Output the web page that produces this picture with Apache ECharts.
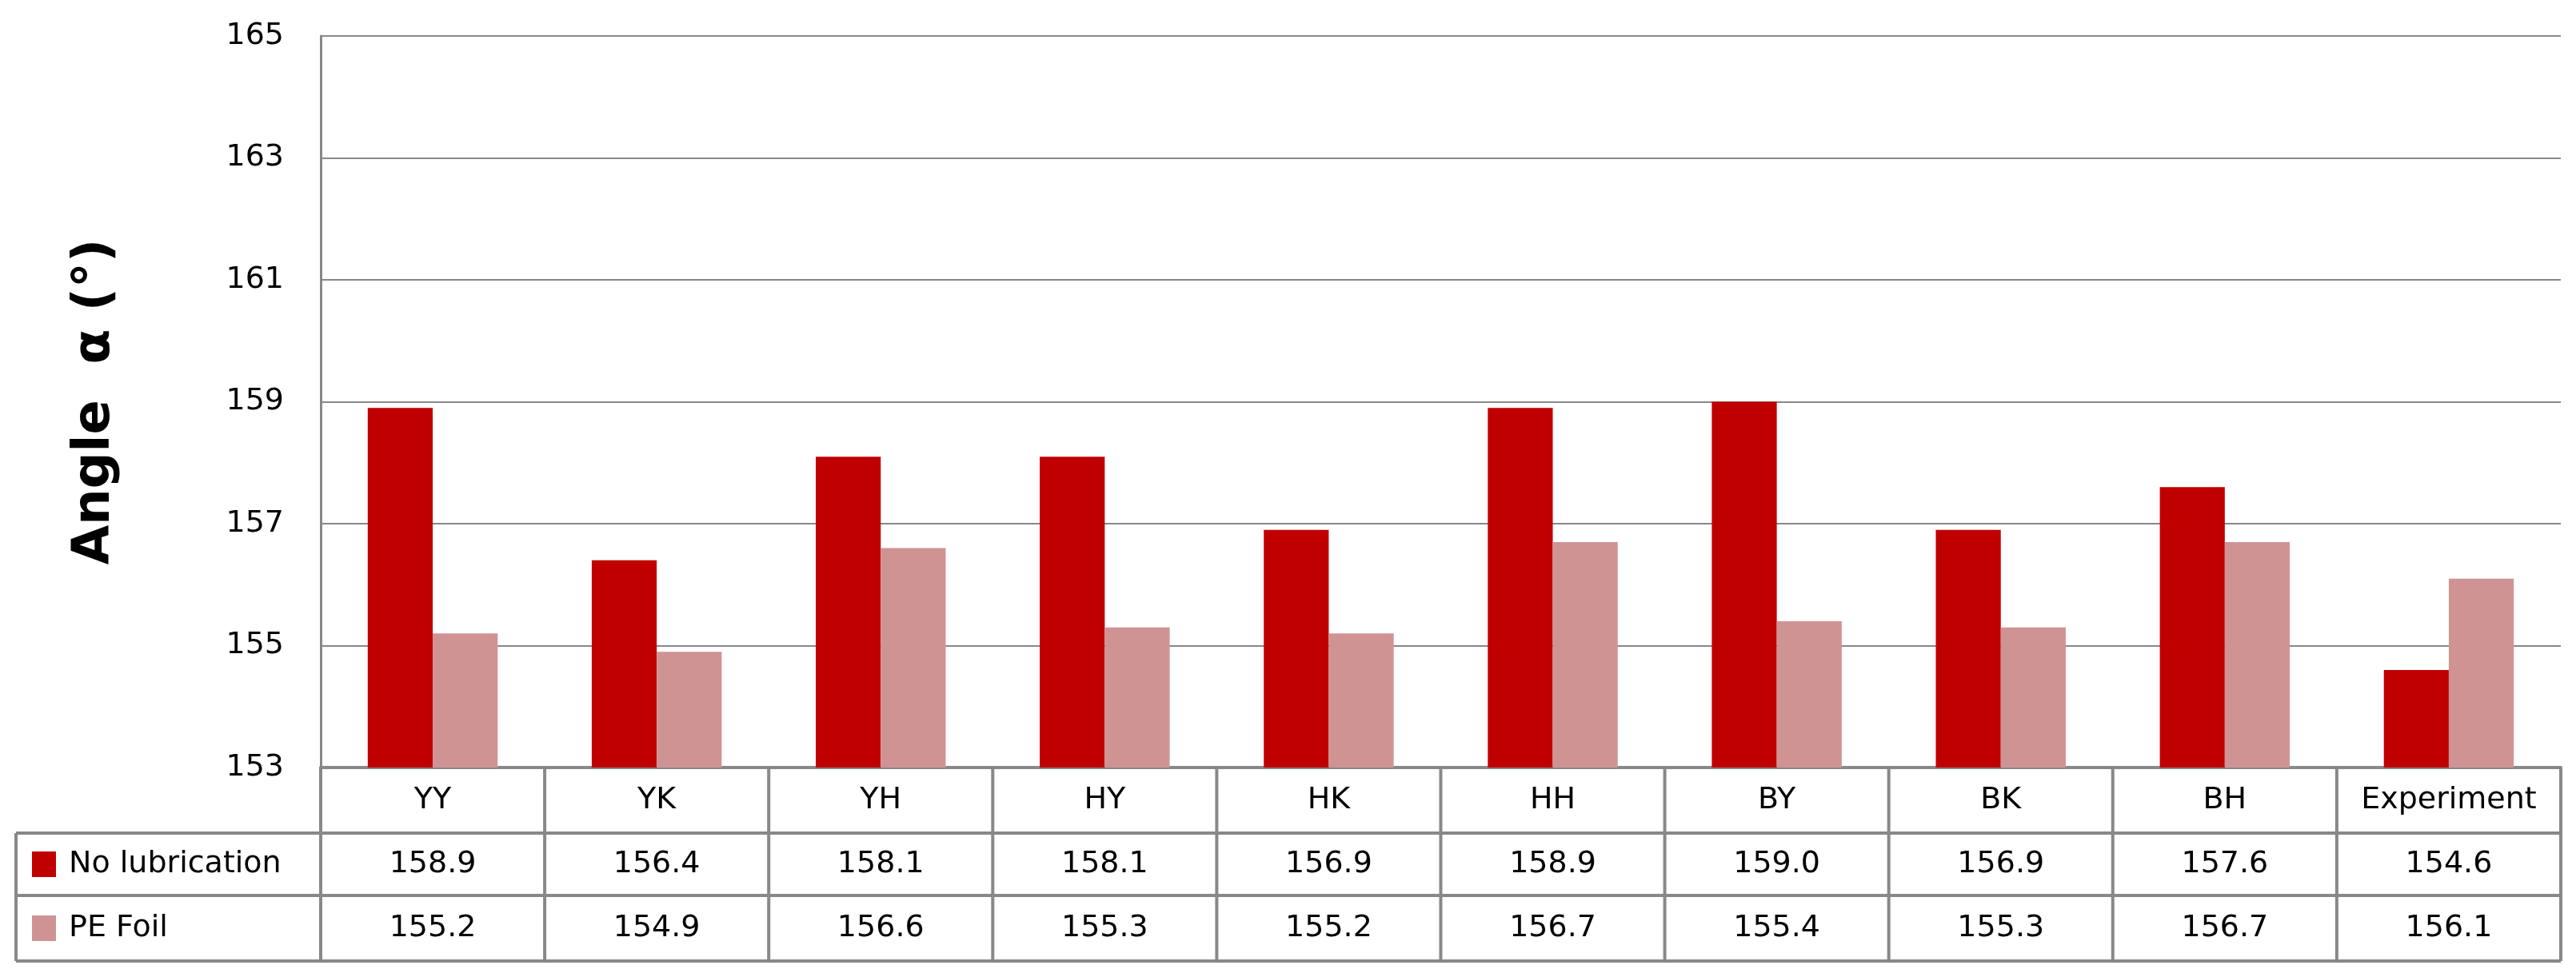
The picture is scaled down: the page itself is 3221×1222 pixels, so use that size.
<!DOCTYPE html>
<html>
<head>
<meta charset="utf-8">
<script src="https://cdn.jsdelivr.net/npm/echarts@6/dist/echarts.min.js"></script>
<style>html,body{margin:0;background:#fff}</style>
</head>
<body>
<div id="main" style="width:3221px;height:1222px;"></div>
<script>
var categories = ['YY', 'YK', 'YH', 'HY', 'HK', 'HH', 'BY', 'BK', 'BH', 'Experiment'];
var noLub = [158.9, 156.4, 158.1, 158.1, 156.9, 158.9, 159.0, 156.9, 157.6, 154.6];
var peFoil = [155.2, 154.9, 156.6, 155.3, 155.2, 156.7, 155.4, 155.3, 156.7, 156.1];
var seriesNames = ['No lubrication', 'PE Foil'];
var colors = ['#C00000', '#D09393'];

var chart = echarts.init(document.getElementById('main'));
var font = 'Verdana, "DejaVu Sans", sans-serif';
chart.setOption({
    animation: false,
    grid: {left: 401, right: 19, top: 45, bottom: 262},
    xAxis: {
        type: 'category', data: categories,
        axisLine: {lineStyle: {color: '#888', width: 4}},
        axisTick: {show: false}, axisLabel: {show: false}
    },
    yAxis: {
        type: 'value', min: 153, max: 165, interval: 2,
        name: 'Angle  α (°)', nameLocation: 'middle', nameGap: 250,
        nameTextStyle: {fontSize: 64, fontWeight: 'bold', color: '#000', fontFamily: font},
        axisLine: {show: true, lineStyle: {color: '#888', width: 3}},
        axisLabel: {fontSize: 38, color: '#000', margin: 46, fontFamily: font},
        splitLine: {lineStyle: {color: '#888', width: 2}}
    },
    series: [
        {name: seriesNames[0], type: 'bar', data: noLub, barWidth: '29%', barGap: '0%', itemStyle: {color: colors[0]}},
        {name: seriesNames[1], type: 'bar', data: peFoil, barWidth: '29%', barGap: '0%', itemStyle: {color: colors[1]}}
    ]
});

// data table under the plot
var x0 = 401, x1 = 3202, tl = 20;
var rowY = [960, 1042, 1120, 1202];
var g = [];
var ls = {stroke: '#888', lineWidth: 4};
function line(a, b, c, d) { g.push({type: 'line', shape: {x1: a, y1: b, x2: c, y2: d}, style: ls}); }
var cw = (x1 - x0) / categories.length;
line(x0, rowY[1], x0, rowY[0]);
line(tl, rowY[1], x1, rowY[1]);
line(tl, rowY[2], x1, rowY[2]);
line(tl, rowY[3], x1, rowY[3]);
line(tl, rowY[1], tl, rowY[3]);
for (var i = 0; i <= categories.length; i++) line(x0 + i * cw, rowY[0], x0 + i * cw, rowY[3]);
var rows = [noLub, peFoil];
categories.forEach(function (c, i) {
    var cx = chart.convertToPixel({xAxisIndex: 0}, c);
    g.push({type: 'text', x: cx, y: (rowY[0] + rowY[1]) / 2, style: {text: c, fontSize: 38, fontFamily: font, fill: '#000', align: 'center', verticalAlign: 'middle'}});
    rows.forEach(function (r, k) {
        g.push({type: 'text', x: cx, y: (rowY[k + 1] + rowY[k + 2]) / 2, style: {text: r[i].toFixed(1), fontSize: 38, fontFamily: font, fill: '#000', align: 'center', verticalAlign: 'middle'}});
    });
});
seriesNames.forEach(function (n, k) {
    var cy = (rowY[k + 1] + rowY[k + 2]) / 2;
    g.push({type: 'rect', shape: {x: 40, y: cy - 16, width: 30, height: 32}, style: {fill: colors[k]}});
    g.push({type: 'text', x: 86, y: cy, style: {text: n, fontSize: 38, fontFamily: font, fill: '#000', verticalAlign: 'middle'}});
});
chart.setOption({graphic: g});
</script>
</body>
</html>
